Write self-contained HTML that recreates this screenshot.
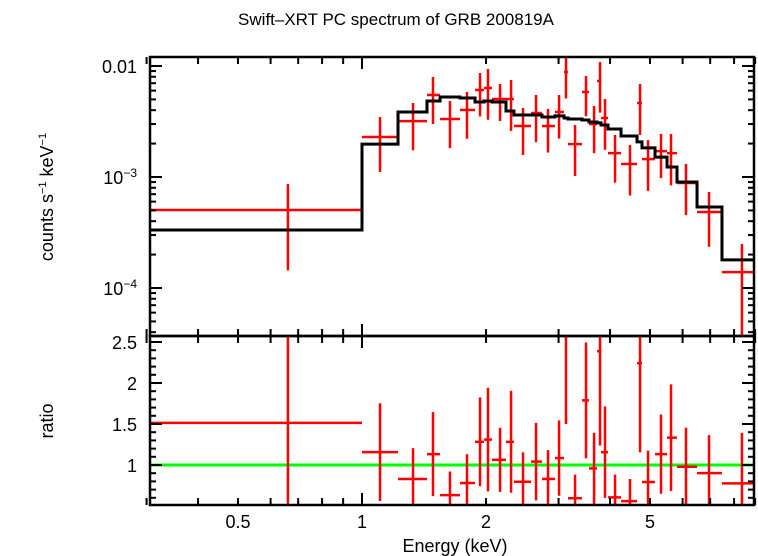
<!DOCTYPE html>
<html><head><meta charset="utf-8"><style>
html,body{margin:0;padding:0;background:#fff;}
svg{display:block;font-family:"Liberation Sans",sans-serif;}
</style></head><body>
<svg id="chart" width="758" height="556" viewBox="0 0 758 556" xmlns="http://www.w3.org/2000/svg">
<text x="396" y="25" font-size="17" text-anchor="middle">Swift–XRT PC spectrum of GRB 200819A</text>
<text transform="translate(53,197) rotate(-90)" font-size="18" text-anchor="middle">counts s<tspan font-size="11" dy="-7">−1</tspan><tspan dy="7"> keV</tspan><tspan font-size="11" dy="-7">−1</tspan></text>
<text transform="translate(53,421) rotate(-90)" font-size="18" text-anchor="middle">ratio</text>
<text x="455" y="552" font-size="18" text-anchor="middle">Energy (keV)</text>
<g id="topPanel"></g>
<g id="botPanel"></g>
</svg>
<script>
const binEdges=[0.3,1.0,1.223,1.438,1.547,1.729,1.881,1.978,2.068,2.236,2.338,2.572,2.734,2.940,3.093,3.162,3.420,3.556,3.719,3.803,3.955,4.253,4.651,4.782,5.143,5.500,5.815,6.504,7.477,10];
const energies=[0.661,1.106,1.330,1.487,1.635,1.798,1.934,2.022,2.163,2.300,2.459,2.645,2.828,3.008,3.127,3.289,3.497,3.658,3.782,3.889,4.113,4.472,4.730,4.946,5.318,5.623,6.115,6.955,8.36];
const rates=[5.04e-4,2.29e-3,3.19e-3,5.48e-3,3.33e-3,4.02e-3,6.08e-3,6.34e-3,5.04e-3,5.04e-3,2.88e-3,3.77e-3,2.88e-3,3.85e-3,8.83e-3,1.98e-3,5.83e-3,3.00e-3,7.33e-3,3.40e-3,1.64e-3,1.31e-3,4.64e-3,1.45e-3,1.71e-3,1.64e-3,8.83e-4,4.84e-4,1.39e-4];
const rateErrs=[3.6e-4,1.18e-3,1.45e-3,2.48e-3,1.51e-3,1.81e-3,2.57e-3,3.06e-3,1.85e-3,2.44e-3,1.30e-3,1.71e-3,1.22e-3,1.63e-3,3.73e-3,0.96e-3,2.30e-3,1.36e-3,3.53e-3,1.64e-3,0.75e-3,0.63e-3,2.25e-3,0.70e-3,0.73e-3,0.80e-3,0.43e-3,2.49e-4,1.10e-4];
const model=[3.33e-4,1.98e-3,3.85e-3,4.84e-3,5.26e-3,5.15e-3,4.74e-3,4.84e-3,4.74e-3,3.93e-3,3.62e-3,3.62e-3,3.47e-3,3.55e-3,3.40e-3,3.33e-3,3.26e-3,3.13e-3,3.07e-3,2.94e-3,2.71e-3,2.34e-3,2.07e-3,1.83e-3,1.51e-3,1.23e-3,9.02e-4,5.37e-4,1.79e-4];
const xTickLabels=["0.5","1","2","5"];
const xTickValues=[0.5,1,2,5];
const ratioTickLabels=["1","1.5","2","2.5"];
const ratioTickValues=[1,1.5,2,2.5];

const NS="http://www.w3.org/2000/svg";
const L=150,R=754,T1=57,B1=336,T2=336,B2=505;
const X=e=>362+412*Math.log10(e);
const Y1=v=>66-111*(Math.log10(v)+2);
const Y2=r=>465-82*(r-1);
function mk(p,tag,a){const el=document.createElementNS(NS,tag);for(const k in a)el.setAttribute(k,a[k]);p.appendChild(el);return el;}
const cx=v=>Math.max(L,Math.min(R,v));
const topG=document.getElementById('topPanel'),botG=document.getElementById('botPanel');
const defs=mk(document.getElementById('chart'),'defs',{});
const c1=mk(defs,'clipPath',{id:'c1'});mk(c1,'rect',{x:L,y:T1,width:R-L,height:B1-T1});
const c2=mk(defs,'clipPath',{id:'c2'});mk(c2,'rect',{x:L,y:T2,width:R-L,height:B2-T2});
const g1=mk(topG,'g',{'clip-path':'url(#c1)'});
const g2=mk(botG,'g',{'clip-path':'url(#c2)'});
const gl=mk(g2,'line',{x1:L,x2:R,y1:Y2(1),y2:Y2(1),stroke:'#00ff00','stroke-width':3});


for(let i=0;i<energies.length;i++){
  const x0=X(binEdges[i]),x1=X(binEdges[i+1]),xc=X(energies[i]);
  const y=Y1(rates[i]),ya=Y1(rates[i]+rateErrs[i]),lo=rates[i]-rateErrs[i];
  const yb=lo>0?Y1(lo):B1+10;
  const g=mk(g1,'g',{stroke:'#ff0000'});
  
  
  mk(g,'line',{x1:x0,x2:x1,y1:y,y2:y,'stroke-width':2.5});
  mk(g,'line',{x1:xc,x2:xc,y1:ya,y2:yb,'stroke-width':2.5});
  const r=rates[i]/model[i],re=rateErrs[i]/model[i];
  const h=mk(g2,'g',{stroke:'#ff0000'});
  
  
  mk(h,'line',{x1:x0,x2:x1,y1:Y2(r),y2:Y2(r),'stroke-width':2.5});
  mk(h,'line',{x1:xc,x2:xc,y1:Y2(r+re),y2:Y2(r-re),'stroke-width':2.5});
}
let d='';
for(let i=0;i<model.length;i++){const y=Y1(model[i]);d+=(i?'L':'M')+cx(X(binEdges[i]))+','+y+'L'+cx(X(binEdges[i+1]))+','+y;}
const mp=mk(g1,'path',{d:d,fill:'none',stroke:'#000','stroke-width':3});


[[T1,B1,topG],[T2,B2,botG]].forEach(([t,b,p])=>{
  const f=mk(p,'rect',{x:L,y:t,width:R-L,height:b-t,fill:'none',stroke:'#000','stroke-width':2.5});
  
  
  for(let dec=-1;dec<=0;dec++)for(let m=1;m<=9;m++){
    const e=m*Math.pow(10,dec);if(e<0.3||e>9.0)continue;const x=X(e);
    const len=(e===1)?12:7;
    mk(p,'line',{x1:x,x2:x,y1:t,y2:t+len,stroke:'#000','stroke-width':2});
    mk(p,'line',{x1:x,x2:x,y1:b,y2:b-len,stroke:'#000','stroke-width':2});
  }
});
for(let dec=-5;dec<=-2;dec++)for(let m=1;m<=9;m++){
  const v=m*Math.pow(10,dec);const y=Y1(v);if(y<T1||y>B1)continue;const len=m===1?12:6;
  mk(topG,'line',{x1:L,x2:L+len,y1:y,y2:y,stroke:'#000','stroke-width':2});
  mk(topG,'line',{x1:R,x2:R-len,y1:y,y2:y,stroke:'#000','stroke-width':2});
}
for(let k=6;k<=25;k++){const r=k/10;const y=Y2(r);const len=(k%5===0)?12:6;
  mk(botG,'line',{x1:L,x2:L+len,y1:y,y2:y,stroke:'#000','stroke-width':2});
  mk(botG,'line',{x1:R,x2:R-len,y1:y,y2:y,stroke:'#000','stroke-width':2});}
const yl=[["0.01",0.01,""],["10","1e-3","−3"],["10","1e-4","−4"]];
yl.forEach(([t,v,s])=>{const el=mk(topG,'text',{x:137,y:Y1(+v)+7,'font-size':18,'text-anchor':'end'});
  
  
  if(s){el.textContent=t;const ts=mk(el,'tspan',{'font-size':12,dy:-7});ts.textContent=s;}else el.textContent=t;});
ratioTickLabels.forEach((t,i)=>{const el=mk(botG,'text',{x:137,y:Y2(ratioTickValues[i])+7,'font-size':18,'text-anchor':'end'});
  
  
  el.textContent=t;});
xTickLabels.forEach((t,i)=>{const el=mk(botG,'text',{x:X(xTickValues[i]),y:528,'font-size':18,'text-anchor':'middle'});
  
  
  el.textContent=t;});
</script>
</body></html>
